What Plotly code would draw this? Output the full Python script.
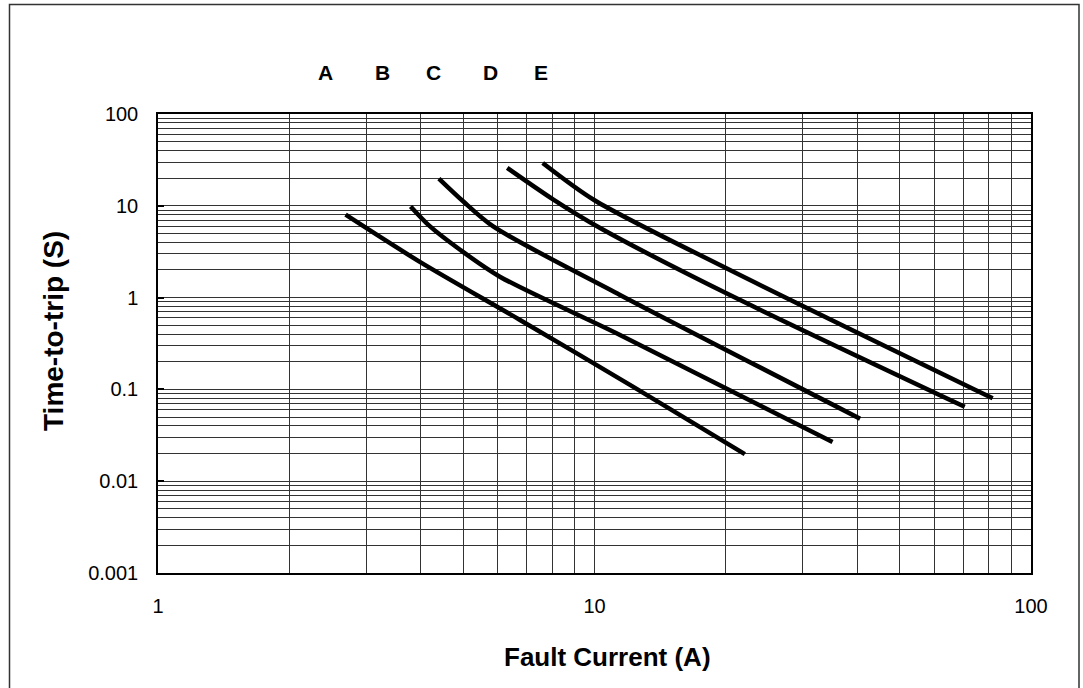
import numpy as np
import plotly.graph_objects as go

# ---- data ----
curve_names = ["A", "B", "C", "D", "E"]
currents_A = [2.69, 3.98, 6.75, 12.3, 22.1]
times_A = [8.0, 2.45, 0.571, 0.106, 0.0197]
currents_B = [3.79, 4.20, 4.92, 6.07, 11.44, 35.1]
times_B = [9.85, 5.96, 3.32, 1.69, 0.392, 0.0268]
currents_C = [4.40, 5.0, 5.86, 11.44, 40.6]
times_C = [19.8, 11.2, 5.96, 1.07, 0.048]
currents_D = [6.31, 8.05, 10.3, 20.0, 70.5]
times_D = [25.9, 11.7, 5.73, 1.12, 0.0646]
currents_E = [7.61, 10.0, 20.0, 81.7]
times_E = [29.3, 11.5, 2.1, 0.080]

label_x = [2.42, 3.26, 4.27, 5.78, 7.54]

x_ticks = [1, 10, 100]
x_ticktext = ["1", "10", "100"]
y_ticks = [0.001, 0.01, 0.1, 1, 10, 100]
y_ticktext = ["0.001", "0.01", "0.1", "1", "10", "100"]

x_title = "Fault Current (A)"
y_title = "Time-to-trip (S)"

FONT = "Arial, 'Liberation Sans', sans-serif"

series = [
    (currents_A, times_A),
    (currents_B, times_B),
    (currents_C, times_C),
    (currents_D, times_D),
    (currents_E, times_E),
]

fig = go.Figure()
for name, (xs, ys) in zip(curve_names, series):
    fig.add_trace(go.Scatter(
        x=xs, y=ys, name=name, mode="lines",
        line=dict(color="black", width=4.5, shape="spline", smoothing=0.8),
        showlegend=False, hoverinfo="x+y+name",
    ))

def minor_vals(lo, hi):
    vals = []
    for d in range(lo, hi):
        for m in range(2, 10):
            vals.append(m * 10 ** d)
    return vals

grid_col = "#333333"

fig.update_xaxes(
    type="log", range=[0, 2],
    tickvals=x_ticks, ticktext=x_ticktext,
    showgrid=True, gridcolor=grid_col, gridwidth=1,
    minor=dict(tickvals=minor_vals(0, 2), showgrid=True, gridcolor=grid_col, gridwidth=1, ticklen=0),
    showline=True, linecolor="black", linewidth=1.5, mirror=True,
    ticks="", ticklabelstandoff=14,
    tickfont=dict(family=FONT, size=20, color="black"),
    zeroline=False,
)
fig.update_yaxes(
    type="log", range=[-3, 2],
    tickvals=y_ticks, ticktext=y_ticktext,
    showgrid=True, gridcolor=grid_col, gridwidth=1,
    minor=dict(tickvals=minor_vals(-3, 2), showgrid=True, gridcolor=grid_col, gridwidth=1, ticklen=0),
    showline=True, linecolor="black", linewidth=1.5, mirror=True,
    ticks="inside", ticklen=6, tickwidth=2, tickcolor="black",
    ticklabelstandoff=14,
    tickfont=dict(family=FONT, size=20, color="black"),
    zeroline=False,
)

L, R, T, B = 158, 52, 114, 115
W, H = 1083, 688
pw, ph = W - L - R, H - T - B

def px_to_paper_x(px):
    return (px - L) / pw

def py_to_paper_y(py):
    return (H - B - py) / ph

annotations = []
for name, lx in zip(curve_names, label_x):
    annotations.append(dict(
        x=np.log10(lx), xref="x", y=py_to_paper_y(72), yref="paper",
        text=name, showarrow=False,
        font=dict(family=FONT, size=21, color="black", weight="bold"),
        xanchor="center", yanchor="middle",
    ))
annotations.append(dict(
    x=px_to_paper_x(607), y=py_to_paper_y(657), xref="paper", yref="paper",
    text=x_title, showarrow=False,
    font=dict(family=FONT, size=26, color="black", weight="bold"),
    xanchor="center", yanchor="middle",
))
annotations.append(dict(
    x=px_to_paper_x(53), y=py_to_paper_y(331), xref="paper", yref="paper",
    text=y_title, showarrow=False, textangle=-90,
    font=dict(family=FONT, size=28, color="black", weight="bold"),
    xanchor="center", yanchor="middle",
))

fig.update_layout(
    width=W, height=H,
    margin=dict(l=L, r=R, t=T, b=B),
    paper_bgcolor="white", plot_bgcolor="white",
    annotations=annotations,
    shapes=[dict(
        type="rect", xref="paper", yref="paper",
        x0=px_to_paper_x(9.5), x1=px_to_paper_x(1079),
        y0=py_to_paper_y(720), y1=py_to_paper_y(4.5),
        line=dict(color="#333333", width=1.5), fillcolor="rgba(0,0,0,0)", layer="below",
    )],
)

fig.write_html(
    "out.html",
    config={"displayModeBar": False},
    post_script="document.body.style.margin='0px';document.body.style.overflow='hidden';",
)
